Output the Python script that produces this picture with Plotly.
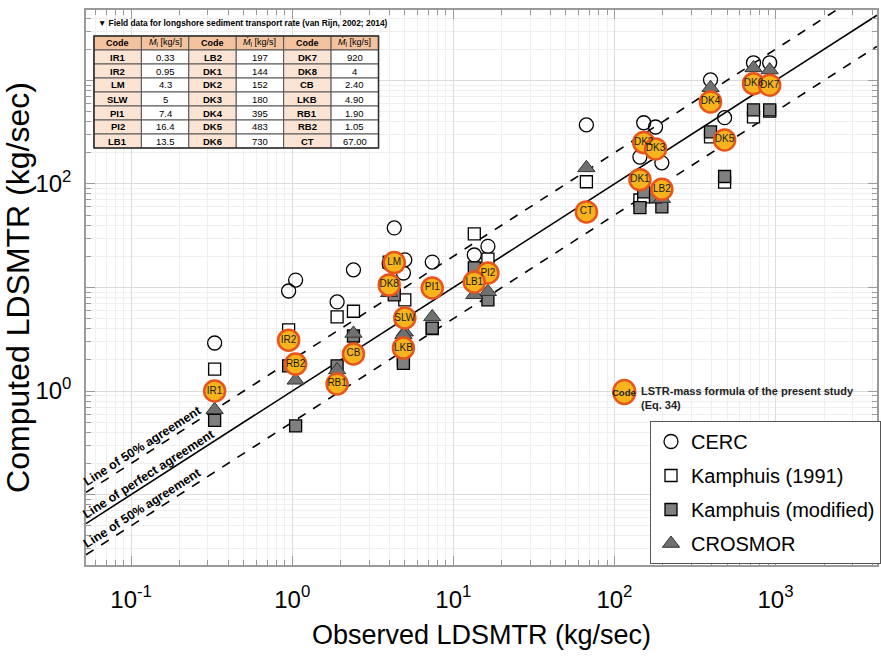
import plotly.graph_objects as go
import numpy as np

# ---------------- data ----------------
codes = ["IR1", "IR2", "LM", "SLW", "PI1", "PI2", "LB1",
         "LB2", "DK1", "DK2", "DK3", "DK4", "DK5", "DK6",
         "DK7", "DK8", "CB", "LKB", "RB1", "RB2", "CT"]
observed_txt = ["0.33", "0.95", "4.3", "5", "7.4", "16.4", "13.5",
                "197", "144", "152", "180", "395", "483", "730",
                "920", "4", "2.40", "4.90", "1.90", "1.05", "67.00"]
observed = [float(v) for v in observed_txt]

present = [1.0, 3.1, 17.4, 5.07, 9.9, 13.8, 11.3,
           89, 110, 251, 218, 620, 266, 930,
           900, 10.6, 2.28, 2.6, 1.17, 1.82, 53.7]
cerc = [2.91, 9.25, 37.6, 18.5, 17.6, 25.0, 20.6,
        160, 182, 390, 355, 1010, 437, 1480,
        1480, 17.0, 14.8, 13.8, 7.25, 11.8, 372]
kamphuis91 = [1.63, 3.9, 17.0, 7.6, 4.0, 18.8, 33.0,
              84, 70, 75, 78, 285, 104, 445,
              505, 17.6, 5.9, 2.0, 5.2, 1.8, 105]
kamphuis_mod = [0.52, 1.75, 8.5, 5.0, 4.06, 7.6, 15.5,
                60, 59, 84, 75, 318, 118, 519,
                519, 10.0, 3.4, 1.85, 1.75, 0.46, 54]
crosmor = [0.66, 3.0, 17.4, 3.7, 5.2, 9.1, 8.5,
           72, 105, 245, 215, 850, 266, 1320,
           1260, 8.9, 3.6, 3.5, 1.6, 1.27, 143]

x_ticks = [0.1, 1, 10, 100, 1000]
x_ticktext = ["10<sup>-1</sup>", "10<sup>0</sup>", "10<sup>1</sup>", "10<sup>2</sup>", "10<sup>3</sup>"]
y_ticks = [0.1, 1, 10, 100, 1000]
y_ticktext = ["", "10<sup>0</sup>", "", "10<sup>2</sup>", ""]

table_header = ["Code", "<i>Ṁ</i><sub>l</sub> [kg/s]"]
table_title = "▼ Field data for longshore sediment transport rate (van Rijn, 2002; 2014)"

x_range_log = [-1.28, 3.63]
y_range_log = [-1.68, 3.68]

ARIAL = "Liberation Sans, Arial, sans-serif"

# plot-area geometry (pixels) used for paper-coordinate decorations
L, R, T, B = 86, 881, 10, 565
W, H = R - L, B - T


def px(xp):
    return (xp - L) / W


def py(yp):
    return (B - yp) / H


fig = go.Figure()

# reference lines
lx = np.array([10 ** x_range_log[0], 10 ** x_range_log[1]])
fig.add_trace(go.Scatter(x=lx, y=lx, mode="lines", line=dict(color="black", width=1.6),
                         showlegend=False, hoverinfo="skip"))
fig.add_trace(go.Scatter(x=lx, y=2 * lx, mode="lines", line=dict(color="black", width=1.6, dash="dash"),
                         showlegend=False, hoverinfo="skip"))
fig.add_trace(go.Scatter(x=lx, y=0.5 * lx, mode="lines", line=dict(color="black", width=1.6, dash="dash"),
                         showlegend=False, hoverinfo="skip"))

# model series
fig.add_trace(go.Scatter(x=observed, y=cerc, mode="markers", name="CERC", legendgroup="a",
                         marker=dict(symbol="circle-open", size=14, color="black", line=dict(width=1.3))))
fig.add_trace(go.Scatter(x=observed, y=kamphuis91, mode="markers", name="Kamphuis (1991)", legendgroup="b",
                         marker=dict(symbol="square", size=12, color="white", line=dict(color="black", width=1.3))))
fig.add_trace(go.Scatter(x=observed, y=kamphuis_mod, mode="markers", name="Kamphuis (modified)", legendgroup="c",
                         marker=dict(symbol="square", size=12, color="#7f7f7f", line=dict(color="black", width=1.3))))
fig.add_trace(go.Scatter(x=observed, y=crosmor, mode="markers", name="CROSMOR", legendgroup="d",
                         marker=dict(symbol="triangle-up", size=15, color="#707070", line=dict(color="#333333", width=1))))

# present study
fig.add_trace(go.Scatter(x=observed, y=present, mode="markers+text", text=codes,
                         textposition="middle center", showlegend=False,
                         textfont=dict(size=10, color="#1a1a1a", family=ARIAL),
                         marker=dict(symbol="circle", size=21, color="#F5B41E",
                                     line=dict(color="#E8541A", width=2.5))))

ann = []
shapes = []

# ---------------- table of field data (drawn in paper coords) ----------------
tx0, tx1 = 94, 380
ty0 = 36
hdr_h, row_h = 14, 14
ncols = 6
cw = (tx1 - tx0) / ncols
nrow = 7
for c in range(ncols):
    grp = c // 2
    is_code = (c % 2 == 0)
    x0 = tx0 + c * cw
    x1 = x0 + cw
    # header cell
    shapes.append(dict(type="rect", xref="paper", yref="paper", x0=px(x0), x1=px(x1),
                       y0=py(ty0 + hdr_h), y1=py(ty0), fillcolor="#F3C29E",
                       line=dict(color="#555555", width=1), layer="above"))
    ann.append(dict(x=px((x0 + x1) / 2), y=py(ty0 + hdr_h / 2), xref="paper", yref="paper",
                    xanchor="center", yanchor="middle", showarrow=False,
                    text=("<b>%s</b>" % table_header[0]) if is_code else table_header[1],
                    font=dict(size=9, family=ARIAL, color="black")))
    for r in range(nrow):
        idx = grp * nrow + r
        y0 = ty0 + hdr_h + r * row_h
        y1 = y0 + row_h
        shapes.append(dict(type="rect", xref="paper", yref="paper", x0=px(x0), x1=px(x1),
                           y0=py(y1), y1=py(y0), fillcolor="#FCE4D4" if is_code else "white",
                           line=dict(color="#555555", width=1), layer="above"))
        txt = ("<b>%s</b>" % codes[idx]) if is_code else observed_txt[idx]
        ann.append(dict(x=px((x0 + x1) / 2), y=py((y0 + y1) / 2), xref="paper", yref="paper",
                        xanchor="center", yanchor="middle", showarrow=False, text=txt,
                        font=dict(size=9.5, family=ARIAL, color="black")))
# outer border
shapes.append(dict(type="rect", xref="paper", yref="paper", x0=px(tx0), x1=px(tx1),
                   y0=py(ty0 + hdr_h + nrow * row_h), y1=py(ty0), fillcolor="rgba(0,0,0,0)",
                   line=dict(color="#333333", width=1.6), layer="above"))
ann.append(dict(x=px(96), y=py(23), xref="paper", yref="paper", xanchor="left",
                yanchor="middle", showarrow=False, text="<b>%s</b>" % table_title,
                font=dict(size=8.4, family=ARIAL, color="black")))

# ---------------- line labels ----------------
ang = -np.degrees(np.arctan((H / (y_range_log[1] - y_range_log[0])) / (W / (x_range_log[1] - x_range_log[0]))))
lab_font = dict(size=12.5, family=ARIAL, color="black")
ann.append(dict(x=-0.93, y=-0.93 + np.log10(2) + 0.10, xref="x", yref="y", text="<b>Line of 50% agreement</b>",
                showarrow=False, textangle=ang, font=lab_font))
ann.append(dict(x=-0.89, y=-0.89 + 0.09, xref="x", yref="y", text="<b>Line of perfect agreement</b>",
                showarrow=False, textangle=ang, font=lab_font))
ann.append(dict(x=-0.93, y=-0.93 - np.log10(2) + 0.10, xref="x", yref="y", text="<b>Line of 50% agreement</b>",
                showarrow=False, textangle=ang, font=lab_font))

# ---------------- key for present-study markers ----------------
shapes.append(dict(type="circle", xref="paper", yref="paper",
                   x0=px(627 - 11), x1=px(627 + 11), y0=py(392 + 12), y1=py(392 - 12),
                   fillcolor="#F5B41E", line=dict(color="#E8541A", width=2.5), layer="above"))
ann.append(dict(x=px(627), y=py(392), xref="paper", yref="paper", xanchor="center", yanchor="middle",
                showarrow=False, text="<b>Code</b>", font=dict(size=9.5, family=ARIAL, color="#222")))
ann.append(dict(x=px(642), y=py(383), xref="paper", yref="paper", xanchor="left",
                yanchor="top", align="left", showarrow=False,
                text="<b>LSTR-mass formula of the present study<br>(Eq. 34)</b>",
                font=dict(size=11, family=ARIAL, color="#222")))

axis_common = dict(type="log", showline=True, linecolor="#9a9a9a", linewidth=1.5, mirror="allticks",
                   ticks="inside", ticklen=9, tickcolor="#9a9a9a", showgrid=True, gridcolor="#dcdcdc",
                   gridwidth=1, zeroline=False, tickmode="array",
                   tickfont=dict(size=24, family=ARIAL, color="black"),
                   minor=dict(ticks="inside", ticklen=5, tickcolor="#9a9a9a", showgrid=True,
                              gridcolor="#efefef", dtick="D1"))

fig.update_layout(
    width=881, height=661, margin=dict(l=L, r=881 - R, t=T, b=661 - B),
    paper_bgcolor="white", plot_bgcolor="white",
    xaxis=dict(axis_common, range=x_range_log, tickvals=x_ticks, ticktext=x_ticktext,
               ticklabelstandoff=12,
               title=dict(text="Observed LDSMTR (kg/sec)", font=dict(size=27, family=ARIAL, color="black"),
                          standoff=14)),
    yaxis=dict(axis_common, range=y_range_log, tickvals=y_ticks, ticktext=y_ticktext,
               ticklabelstandoff=8,
               title=dict(text="Computed LDSMTR (kg/sec)", font=dict(size=32, family=ARIAL, color="black"),
                          standoff=6)),
    legend=dict(x=px(653), y=py(421), xanchor="left", yanchor="top",
                bordercolor="#555555", borderwidth=1, bgcolor="white",
                font=dict(size=20, family=ARIAL, color="black"), tracegroupgap=5,
                traceorder="grouped", itemwidth=30),
    annotations=ann, shapes=shapes,
)

fig.write_html("out.html")
